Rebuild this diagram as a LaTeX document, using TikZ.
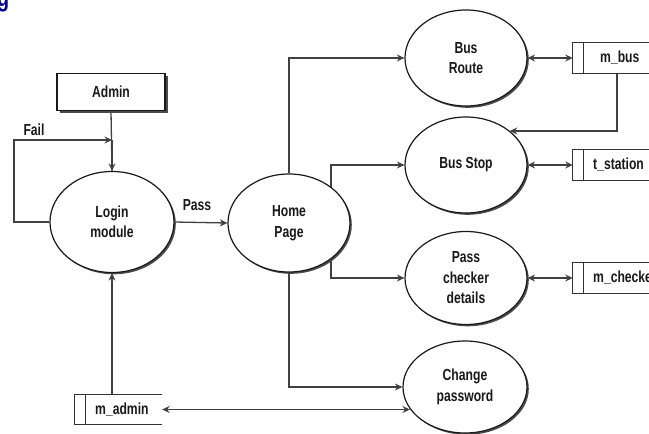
\documentclass[tikz,border=0pt]{standalone}
\usepackage{fontspec}
\setmainfont{Liberation Sans}[FakeStretch=0.76]
\usetikzlibrary{arrows.meta,shadows,backgrounds,shapes.geometric}

% data store: empty anchor node for the box, a text node, and the open-ended outline
\newcommand\datastore[6]{% name, left x, centre y, box width, text left x, text
  \node[storebox, minimum width=#4pt] (#1) at ({#2+#4/2},#3) {};
  \node[label text, anchor=west] (#1-t) at (#5,#3) {#6};
  \draw[storeline] (#1.north east) -- (#1.north west) -- (#1.south west) -- (#1.south east);
  \draw[storeline] ([xshift=10.5pt]#1.north west) -- ([xshift=10.5pt]#1.south west);
}

\tikzset{
  label text/.style={font=\fontsize{16}{20.5}\selectfont\bfseries, text=black!90, inner sep=0pt, align=center},
  process/.style={ellipse, draw=black!90, line width=1.2pt, fill=white,
    label text, inner sep=0pt,
    drop shadow={shadow xshift=1.8pt, shadow yshift=-1.8pt, fill=black!70, opacity=1}},
  entity/.style={rectangle, draw=black!90, line width=1.2pt, fill=white, label text,
    drop shadow={shadow xshift=2.5pt, shadow yshift=-2.5pt, fill=black!70, opacity=1}},
  storebox/.style={rectangle, inner sep=0pt, minimum height=30pt},
  storeline/.style={draw=black!80, line width=1.2pt},
  conn/.style={draw=black!75, line width=1.3pt,
    arrows={-Stealth[length=7.5pt,width=7pt,inset=2.5pt]}},
  both/.style={conn, arrows={Stealth[length=7.5pt,width=7pt,inset=2.5pt]-Stealth[length=7.5pt,width=7pt,inset=2.5pt]}},
  plain/.style={draw=black!75, line width=1.3pt},
}

\begin{document}
\begin{tikzpicture}[x=1pt, y=-1pt]
\useasboundingbox (0,0) rectangle (649,434);
\clip (0,0) rectangle (649,434);

% clipped heading fragment at the corner
\node[font=\fontsize{26}{26}\selectfont\bfseries, text=blue!55!black, anchor=south west, inner sep=0pt] (heading) at (-3,12) {g};

% external entity and processes
\node[entity, minimum width=108pt, minimum height=37pt] (admin) at (111,92) {Admin};
\node[process, minimum width=124pt, minimum height=101pt] (login) at (112,222) {Login\\module};
\node[process, minimum width=122pt, minimum height=98pt] (home) at (289,223) {Home\\Page};
\node[process, minimum width=122pt, minimum height=96pt] (route) at (466,58) {Bus\\Route};
\node[process, minimum width=122pt, minimum height=96pt] (stop) at (466,165) {Bus Stop};
\node[process, minimum width=122pt, minimum height=93pt] (checker) at (466,278) {Pass\\checker\\details};
\node[process, minimum width=124pt, minimum height=92pt] (change) at (465,387) {Change\\password};

% data stores
\datastore{mbus}{573}{58}{90}{600}{m\_bus}
\datastore{tstation}{573}{165}{100}{593}{t\_station}
\datastore{mchecker}{573}{278}{100}{593}{m\_checker}
\datastore{madmin}{75}{409.5}{87}{95}{m\_admin}

% connection points
\coordinate (failjoin) at (112,140);
\coordinate (failcorner) at (14,0);
\coordinate (branch) at (331,0);
\coordinate (mbusdrop) at (617,131);

\begin{scope}[on background layer]
  % login flow
  \draw[plain] (admin.south) -- (login.north);
  \draw[conn] (failjoin) -- (login.north);
  \draw[conn] (login.west) -- (failcorner |- login.west) -- (failcorner |- failjoin) -- (failjoin);
  \node[label text, anchor=south] (faillabel) at (34,136) {Fail};
  \draw[conn] (login.east) -- (home.west);
  \node[label text, anchor=south] (passlabel) at (197,211) {Pass};
  \draw[conn] (login.south |- madmin.north) -- (login.south);

  % home page branches
  \draw[conn] (home.north) -- (home.north |- route.west) -- (route.west);
  \draw[conn] (branch |- checker.west) -- (branch |- stop.west) -- (stop.west);
  \draw[conn] (branch |- stop.west) -- (branch |- checker.west) -- (checker.west);
  \draw[conn] (home.south) -- (home.south |- change.west) -- (change.west);

  % data store links
  \draw[both] (route.east) -- (mbus.west);
  \draw[conn] (mbusdrop |- mbus.south) -- (mbusdrop) -- (mbusdrop -| stop.38);
  \draw[both] (stop.east) -- (tstation.west);
  \draw[both] (checker.east) -- (mchecker.west);
  \draw[both] (madmin.east) -- (madmin.east -| change.202);
\end{scope}
\end{tikzpicture}
\end{document}
